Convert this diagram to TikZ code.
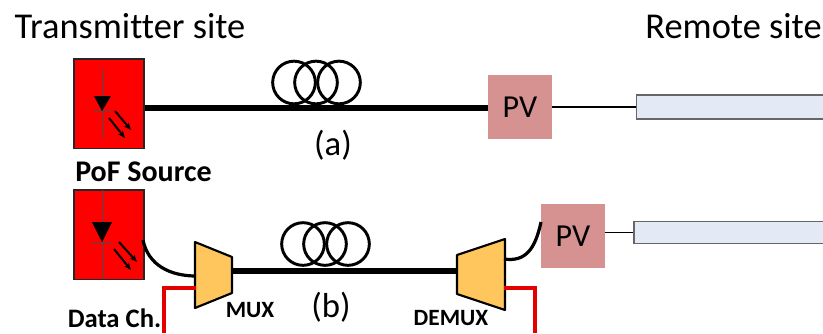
\documentclass[tikz,border=0pt]{standalone}
\usepackage{fontspec}
\setmainfont{Carlito}[Ligatures=NoCommon]
\usetikzlibrary{
  positioning,
  arrows.meta
}
\definecolor{pvpink}{HTML}{D69191}
\definecolor{muxorange}{HTML}{FFC65E}
\definecolor{loadblue}{HTML}{E3EAF6}
\tikzset{
  >={Stealth[length=5.5pt,width=4.5pt]},
  source/.style={draw=black!85, line width=1pt, fill=red, inner sep=0pt, minimum width=52.5pt, minimum height=67pt},
  pv/.style={fill=pvpink, inner sep=0pt, minimum size=48pt, font=\fontsize{24}{24}\selectfont},
  load/.style={draw=black!60, line width=.8pt, fill=loadblue, inner sep=0pt},
  coil/.style={draw, circle, line width=2.2pt, inner sep=0pt, minimum size=32pt},
  mux/.style={draw, line width=1.6pt, fill=muxorange, line join=round},
  fiber/.style={line width=4.5pt},
  patch/.style={line width=2.4pt},
  wire/.style={line width=1.4pt},
  data/.style={line width=3pt, red!90!black},
  diodepin/.style={line width=.4pt, black!70},
  emit/.style={->, line width=1.5pt},
  site/.style={font=\fontsize{27.3}{27.3}\selectfont},
  tag/.style={font=\fontsize{26}{26}\selectfont},
  boldtext/.style={font=\fontsize{20}{20}\selectfont\bfseries},
  smallbold/.style={font=\fontsize{17.5}{17.5}\selectfont\bfseries}
}
\begin{document}
\begin{tikzpicture}[x=.75pt, y=-.75pt]
    \useasboundingbox (0,0) rectangle (823,333);
    \clip (0,0) rectangle (823,333);

    % site titles
    \node[site] (tx) at (130,26) {Transmitter site};
    \node[site] (rx) at (733.5,26) {Remote site};

    % upper link
    \node[source] (srca) at (109,103.5) {};
    \node[pv] (pva) at (520,107) {PV};
    \node[load, minimum width=142pt, minimum height=18pt] (loada) at (731.5,107) {};
    \draw[fiber] (srca.east |- 0,107.5) -- (pva.west |- 0,107.5);
    \draw[wire] (pva.east) -- (loada.west);
    \node[coil] (c1a) at (294,82.5) {};
    \node[coil] (c2a) at (316,82.5) {};
    \node[coil] (c3a) at (339,82.5) {};
    \node[tag] (taga) at (333,145) {(a)};
    \node[boldtext, font=\fontsize{22.5}{22.5}\selectfont\bfseries] (poflabel) at (143.5,172) {PoF Source};

    % diode, upper source
    \draw[diodepin] (102,69) -- (102,138);
    \draw[diodepin] (94,111) -- (111,111);
    \fill (94,96) -- (111,96) -- (102,111) -- cycle;
    \draw[emit] (115,111) -- (131,130);
    \draw[emit] (109,118) -- (125,138);

    % lower link
    \node[source] (srcb) at (109,234.5) {};
    \node[pv] (pvb) at (573,236) {PV};
    \node[load, minimum width=144pt, minimum height=17pt] (loadb) at (730,232.5) {};
    \draw[mux] (195,242) -- (232,257) -- (232,293) -- (195,308) -- cycle;
    \draw[mux] (457,255) -- (505,239) -- (505,310) -- (457,294) -- cycle;
    \coordinate (muxin) at (196,276);
    \coordinate (muxdata) at (196,288);
    \coordinate (muxout) at (232,271);
    \coordinate (demuxin) at (457,271);
    \coordinate (demuxout) at (504,259);
    \coordinate (demuxdata) at (504,288);
    \coordinate (pvbin) at (541,222);
    \coordinate (srcbout) at (143,240);
    \coordinate (datain) at (164,333);
    \coordinate (dataout) at (535,333);
    \draw[fiber] (muxout) -- (demuxin);
    \draw[patch] (srcbout) .. controls (148,265) and (170,276) .. (muxin);
    \draw[patch] (demuxout) .. controls (525,262) and (535,250) .. (pvbin);
    \draw[data] (muxdata) -| (datain);
    \draw[data] (demuxdata) -| (dataout);
    \draw[wire] (pvb.east |- loadb.west) -- (loadb.west);
    \node[coil] (c1b) at (303,244) {};
    \node[coil] (c2b) at (325,244) {};
    \node[coil] (c3b) at (348,244) {};
    \node[tag] (tagb) at (331,307) {(b)};
    \node[boldtext] (datalabel) at (114.5,318) {Data Ch.};
    \node[smallbold] (muxlabel) at (250,310) {MUX};
    \node[smallbold] (demuxlabel) at (451,318) {DEMUX};

    % diode, lower source
    \draw[diodepin] (102,190) -- (102,279);
    \draw[diodepin] (92,242) -- (112,242);
    \fill (92,222) -- (112,222) -- (102,242) -- cycle;
    \draw[emit] (119,242) -- (137,262);
    \draw[emit] (114,249) -- (131,270);
\end{tikzpicture}
\end{document}
